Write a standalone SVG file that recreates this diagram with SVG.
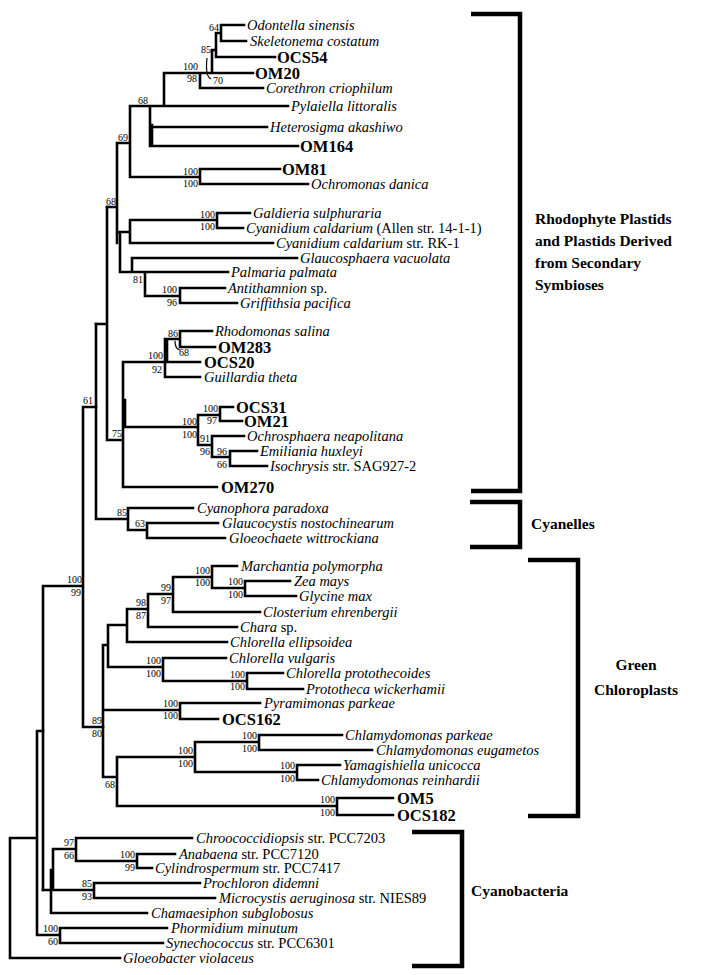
<svg xmlns="http://www.w3.org/2000/svg" width="705" height="975" viewBox="0 0 705 975">
<style>
text{font-family:"Liberation Serif","Times New Roman",serif;fill:#000}
.t{font-size:14.5px}
.i{font-style:italic}
.b{font-size:16.5px;font-weight:bold}
.s{font-size:10px;text-anchor:end}
.c{font-size:15.5px;font-weight:bold}
.e{fill:none;stroke:#000;stroke-width:2.6;stroke-linecap:square}
.p{fill:none;stroke:#000;stroke-width:1.2}
.k{fill:none;stroke:#000;stroke-width:4.5}
</style>
<rect width="705" height="975" fill="#fff"/>
<g id="connectors">
<path class="e" d="M221,25H244M221,41H246M221,25V41M216,33H221M216,33V57M216,57H275M212,50H216M212,50V73M164,73H253M200,73V88M200,88H263M164,73V106M130,106H288M150,106V146M152,125V146M151,127H267M151,146H298M130,106V177M117,143H130M130,177H200M200,169V184M200,169H280M200,184H308M117,143V243M107,207H117"/>
<path class="e" d="M130,220H217M217,213V228M217,213H250M217,228H243M130,220V243M130,243H273M118,232H130M120,232V272M120,272H228M132,258V272M132,258H297M145,272V296M145,296H180M180,288V303M180,288H225M180,303H237"/>
<path class="e" d="M107,207V440M96,324H107M107,440H123M123,362V487M125,400V427M123,362H200M165,339V377M167,339V362M165,377H200M167,339H180M180,331V347M180,331H212M180,347H215M123,427H198M198,415V445M198,415H220M220,407V421M220,407H233M220,421H242M198,445H212M212,436V457M212,436H244M212,457H230M230,451V466M230,451H257M230,466H267M123,487H217"/>
<path class="e" d="M96,324V519M96,519H128M128,508V530M128,508H193M128,530H147M147,523V538M147,523H218M147,538H225"/>
<path class="e" d="M83,407H96M83,407V727M43,586H83M43,586V890M83,727H103"/>
<path class="e" d="M103,645V777M103,645H108M108,625V667M108,625H127M127,609V642M127,609H148M127,642H227M148,594V627M148,594H173M148,627H237M173,577V612M173,577H212M173,612H260M212,566V588M212,566H237M212,588H245M245,581V596M245,581H290M245,596H296M108,667H163M163,658V681M163,658H226M163,681H247M247,673V689M247,673H283M247,689H303M103,710H180M180,703V719M180,703H260M180,719H218M103,777H117M117,757V806M117,757H195M195,742V772M195,742H259M259,735V750M259,735H342M259,750H372M195,772H297M297,765V780M297,765H340M297,780H318M117,806H337M337,798V815M337,798H393M337,815H393"/>
<path class="e" d="M37,731H43M37,731V935M10,838H37M10,838V958M10,958H120M37,935H60M60,928V943M60,928H167M60,943H163M43,890H94M94,883V898M94,883H200M94,898H215M53,849V890M53,849H76M76,838V861M76,838H192M76,861H137M137,854V868M137,854H175M137,868H152M51,870V913M51,870H53M51,913H147"/>
<path class="p" d="M207,58Q205,77 211,79M175,341Q175,349 180,350"/>
</g>
<g id="support">
<text class="s" x="219" y="31">64</text>
<text class="s" x="211" y="53">85</text>
<text class="s" x="223" y="84">70</text>
<text class="s" x="198" y="70">100</text>
<text class="s" x="197" y="82">98</text>
<text class="s" x="148" y="104">68</text>
<text class="s" x="128" y="141">69</text>
<text class="s" x="198" y="175">100</text>
<text class="s" x="198" y="187">100</text>
<text class="s" x="116" y="205">68</text>
<text class="s" x="215" y="218">100</text>
<text class="s" x="215" y="230">100</text>
<text class="s" x="143" y="283">81</text>
<text class="s" x="177" y="293">100</text>
<text class="s" x="177" y="306">96</text>
<text class="s" x="178" y="337">86</text>
<text class="s" x="189" y="356">68</text>
<text class="s" x="163" y="359">100</text>
<text class="s" x="162" y="373">92</text>
<text class="s" x="218" y="412">100</text>
<text class="s" x="217" y="424">97</text>
<text class="s" x="197" y="425">100</text>
<text class="s" x="197" y="438">100</text>
<text class="s" x="210" y="442">91</text>
<text class="s" x="210" y="455">96</text>
<text class="s" x="227" y="455">96</text>
<text class="s" x="227" y="468">66</text>
<text class="s" x="122" y="437">75</text>
<text class="s" x="93" y="404">61</text>
<text class="s" x="127" y="516">85</text>
<text class="s" x="145" y="527">63</text>
<text class="s" x="82" y="583">100</text>
<text class="s" x="81" y="596">99</text>
<text class="s" x="210" y="574">100</text>
<text class="s" x="210" y="586">100</text>
<text class="s" x="243" y="585">100</text>
<text class="s" x="243" y="598">100</text>
<text class="s" x="171" y="591">99</text>
<text class="s" x="171" y="604">97</text>
<text class="s" x="146" y="606">98</text>
<text class="s" x="146" y="619">87</text>
<text class="s" x="161" y="664">100</text>
<text class="s" x="161" y="677">100</text>
<text class="s" x="245" y="678">100</text>
<text class="s" x="245" y="690">100</text>
<text class="s" x="178" y="707">100</text>
<text class="s" x="178" y="719">100</text>
<text class="s" x="102" y="724">89</text>
<text class="s" x="102" y="737">80</text>
<text class="s" x="193" y="754">100</text>
<text class="s" x="193" y="767">100</text>
<text class="s" x="257" y="739">100</text>
<text class="s" x="257" y="752">100</text>
<text class="s" x="295" y="769">100</text>
<text class="s" x="295" y="782">100</text>
<text class="s" x="115" y="788">68</text>
<text class="s" x="335" y="803">100</text>
<text class="s" x="335" y="816">100</text>
<text class="s" x="74" y="846">97</text>
<text class="s" x="74" y="859">66</text>
<text class="s" x="135" y="858">100</text>
<text class="s" x="135" y="871">99</text>
<text class="s" x="92" y="887">85</text>
<text class="s" x="92" y="900">93</text>
<text class="s" x="58" y="932">100</text>
<text class="s" x="58" y="945">60</text>
</g>
<g id="odontella"><text class="t i" x="247" y="30">Odontella sinensis</text></g>
<g id="skeletonema"><text class="t i" x="250" y="46">Skeletonema costatum</text></g>
<g id="ocs54"><text class="b" x="277" y="63">OCS54</text></g>
<g id="om20"><text class="b" x="255" y="79">OM20</text></g>
<g id="corethron"><text class="t i" x="266" y="93">Corethron criophilum</text></g>
<g id="pylaiella"><text class="t i" x="291" y="111">Pylaiella littoralis</text></g>
<g id="heterosigma"><text class="t i" x="270" y="132">Heterosigma akashiwo</text></g>
<g id="om164"><text class="b" x="300" y="152">OM164</text></g>
<g id="om81"><text class="b" x="282" y="175">OM81</text></g>
<g id="ochromonas"><text class="t i" x="311" y="189">Ochromonas danica</text></g>
<g id="galdieria"><text class="t i" x="253" y="218">Galdieria sulphuraria</text></g>
<g id="cyanidium-allen"><text class="t" x="246" y="233"><tspan class="i">Cyanidium caldarium</tspan> (Allen str. 14-1-1)</text></g>
<g id="cyanidium-rk1"><text class="t" x="276" y="248"><tspan class="i">Cyanidium caldarium</tspan> str. RK-1</text></g>
<g id="glaucosphaera"><text class="t i" x="300" y="263">Glaucosphaera vacuolata</text></g>
<g id="palmaria"><text class="t i" x="231" y="277">Palmaria palmata</text></g>
<g id="antithamnion"><text class="t" x="228" y="293"><tspan class="i">Antithamnion</tspan> sp.</text></g>
<g id="griffithsia"><text class="t i" x="240" y="308">Griffithsia pacifica</text></g>
<g id="rhodomonas"><text class="t i" x="215" y="336">Rhodomonas salina</text></g>
<g id="om283"><text class="b" x="218" y="353">OM283</text></g>
<g id="ocs20"><text class="b" x="204" y="368">OCS20</text></g>
<g id="guillardia"><text class="t i" x="204" y="382">Guillardia theta</text></g>
<g id="ocs31"><text class="b" x="236" y="413">OCS31</text></g>
<g id="om21"><text class="b" x="244" y="427">OM21</text></g>
<g id="ochrosphaera"><text class="t i" x="247" y="441">Ochrosphaera neapolitana</text></g>
<g id="emiliania"><text class="t i" x="260" y="456">Emiliania huxleyi</text></g>
<g id="isochrysis"><text class="t" x="270" y="471"><tspan class="i">Isochrysis</tspan> str. SAG927-2</text></g>
<g id="om270"><text class="b" x="221" y="493">OM270</text></g>
<g id="cyanophora"><text class="t i" x="197" y="513">Cyanophora paradoxa</text></g>
<g id="glaucocystis"><text class="t i" x="222" y="528">Glaucocystis nostochinearum</text></g>
<g id="gloeochaete"><text class="t i" x="229" y="543">Gloeochaete wittrockiana</text></g>
<g id="marchantia"><text class="t i" x="241" y="571">Marchantia polymorpha</text></g>
<g id="zea"><text class="t i" x="294" y="586">Zea mays</text></g>
<g id="glycine"><text class="t i" x="299" y="601">Glycine max</text></g>
<g id="closterium"><text class="t i" x="263" y="617">Closterium ehrenbergii</text></g>
<g id="chara"><text class="t" x="240" y="632"><tspan class="i">Chara</tspan> sp.</text></g>
<g id="chlorella-ellipsoidea"><text class="t i" x="230" y="647">Chlorella ellipsoidea</text></g>
<g id="chlorella-vulgaris"><text class="t i" x="229" y="663">Chlorella vulgaris</text></g>
<g id="chlorella-protothecoides"><text class="t i" x="286" y="678">Chlorella protothecoides</text></g>
<g id="prototheca"><text class="t i" x="306" y="694">Prototheca wickerhamii</text></g>
<g id="pyramimonas"><text class="t i" x="264" y="708">Pyramimonas parkeae</text></g>
<g id="ocs162"><text class="b" x="222" y="725">OCS162</text></g>
<g id="chlamy-parkeae"><text class="t i" x="345" y="740">Chlamydomonas parkeae</text></g>
<g id="chlamy-eugametos"><text class="t i" x="376" y="755">Chlamydomonas eugametos</text></g>
<g id="yamagishiella"><text class="t i" x="343" y="770">Yamagishiella unicocca</text></g>
<g id="chlamy-reinhardii"><text class="t i" x="321" y="785">Chlamydomonas reinhardii</text></g>
<g id="om5"><text class="b" x="397" y="804">OM5</text></g>
<g id="ocs182"><text class="b" x="397" y="821">OCS182</text></g>
<g id="chroococcidiopsis"><text class="t" x="196" y="843"><tspan class="i">Chroococcidiopsis</tspan> str. PCC7203</text></g>
<g id="anabaena"><text class="t" x="179" y="859"><tspan class="i">Anabaena</tspan> str. PCC7120</text></g>
<g id="cylindrospermum"><text class="t" x="155" y="873"><tspan class="i">Cylindrospermum</tspan> str. PCC7417</text></g>
<g id="prochloron"><text class="t i" x="203" y="888">Prochloron didemni</text></g>
<g id="microcystis"><text class="t" x="219" y="903"><tspan class="i">Microcystis aeruginosa</tspan> str. NIES89</text></g>
<g id="chamaesiphon"><text class="t i" x="151" y="918">Chamaesiphon subglobosus</text></g>
<g id="phormidium"><text class="t i" x="171" y="933">Phormidium minutum</text></g>
<g id="synechococcus"><text class="t" x="166" y="948"><tspan class="i">Synechococcus</tspan> str. PCC6301</text></g>
<g id="gloeobacter"><text class="t i" x="123" y="963">Gloeobacter violaceus</text></g>
<g id="group-rhodophyte">
<path class="k" d="M471,14H520V491H471"/>
<text class="c" x="535" y="224">Rhodophyte Plastids</text>
<text class="c" x="535" y="246">and Plastids Derived</text>
<text class="c" x="535" y="268">from Secondary</text>
<text class="c" x="535" y="290">Symbioses</text>
</g>
<g id="group-cyanelles">
<path class="k" d="M470,502H520V547H470"/>
<text class="c" x="531" y="529">Cyanelles</text>
</g>
<g id="group-green">
<path class="k" d="M528,560H578V816H528"/>
<text class="c" x="636" y="670" text-anchor="middle">Green</text>
<text class="c" x="636" y="695" text-anchor="middle">Chloroplasts</text>
</g>
<g id="group-cyanobacteria">
<path class="k" d="M412,832H462V966H412"/>
<text class="c" x="471" y="896">Cyanobacteria</text>
</g>
</svg>
